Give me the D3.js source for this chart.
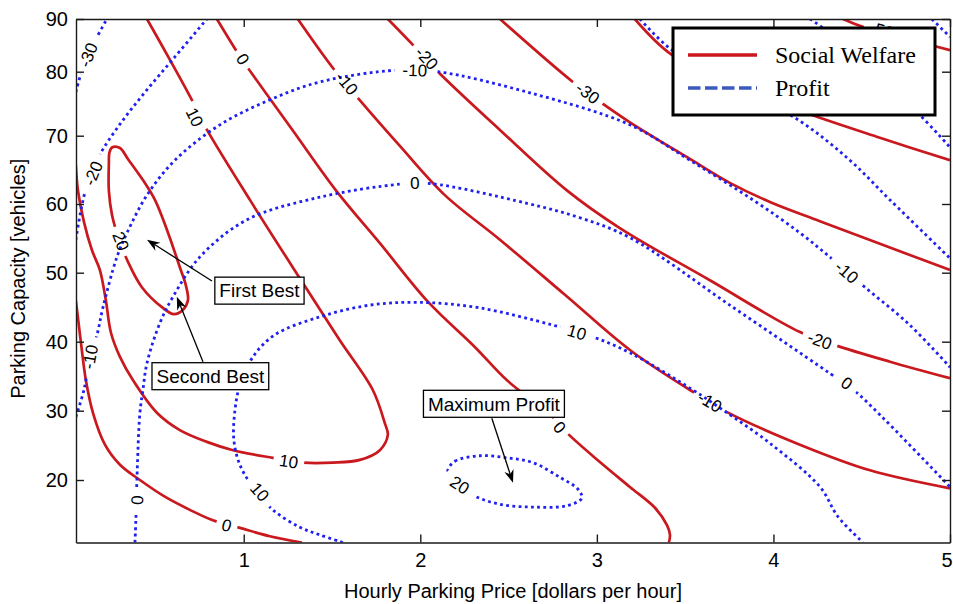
<!DOCTYPE html>
<html>
<head>
<meta charset="utf-8">
<title>Parking price and capacity: social welfare and profit contours</title>
<script src="https://cdn.jsdelivr.net/npm/d3@7"></script>
<style>
  html, body { margin: 0; padding: 0; background: #fff; }
  svg { display: block; }
  text { font-family: "Liberation Sans", Arial, Helvetica, sans-serif; fill: #000; }
</style>
</head>
<body>
<svg id="chart" width="953" height="604"></svg>
<script>
// ---------------------------------------------------------------------------
// Data
// ---------------------------------------------------------------------------
const priceDomain = [0.05, 5];          // hourly parking price, dollars per hour
const capacityDomain = [11, 90];        // parking capacity, vehicles
const xTicks = [1, 2, 3, 4, 5];
const yTicks = [20, 30, 40, 50, 60, 70, 80, 90];

// Social welfare iso-lines, points as [price, capacity]
const welfare20 = [[0.240,67.6],[0.256,68.3],[0.299,68.2],[0.344,66.6],[0.429,63.5],[0.497,60.6],
  [0.570,55.9],[0.638,50.8],[0.672,48.2],[0.684,46.0],[0.655,44.6],[0.604,44.0],[0.542,44.9],
  [0.423,47.9],[0.344,51.6],[0.288,55.3],[0.254,58.4],[0.236,62.0],[0.236,65.7]];
const welfare10 = [[0.049,65.7],[0.061,62.0],[0.095,57.4],[0.140,53.3],[0.185,50.4],[0.219,46.0],
  [0.248,41.3],[0.299,37.8],[0.373,34.4],[0.508,29.7],[0.638,27.2],[0.791,25.5],[0.939,24.3],
  [1.165,23.2],[1.335,22.5],[1.505,22.5],[1.658,22.9],[1.771,24.3],[1.816,26.5],[1.799,28.2],
  [1.731,33.0],[1.544,40.2],[1.335,48.5],[1.035,60.6],[0.780,71.5],[0.706,75.6],[0.583,82.2],[0.452,90]];
const welfare0a = [[0.848,90],[0.967,83.5],[1.024,80.7],[1.273,71.0],[1.522,62.0],[1.771,54.3],
  [2.043,45.8],[2.310,39.2],[2.491,34.4],[2.751,29.1],[2.831,26.8],[3.017,22.6],
  [3.187,19.0],[3.329,16.0],[3.397,13.5],[3.414,12.1],[3.408,11]];
const welfare0b = [[0.049,46.0],[0.066,42.4],[0.083,38.8],[0.106,34.4],[0.146,29.7],[0.214,25.1],
  [0.299,22.2],[0.412,20.0],[0.553,17.6],[0.695,15.7],[0.825,14.2],[0.978,13.1],[1.148,11.9],[1.329,11]];
const welfareM10 = [[1.306,90],[1.505,80.7],[1.646,75.9],[1.884,68.5],[2.139,61.3],[2.451,54.8],
  [2.819,46.8],[3.187,38.8],[3.527,33.0],[3.737,29.8],[4.150,25.1],[4.547,21.4],[5.0,18.8]];
const welfareM20 = [[1.816,90],[1.958,85.1],[2.100,80.0],[2.451,70.9],[2.830,62.0],[3.130,56.5],
  [3.640,48.9],[4.150,41.4],[4.348,39.5],[4.660,37.1],[5.0,34.7]];
const welfareM30 = [[2.451,90],[2.864,78.4],[3.028,75.1],[3.187,72.1],[3.527,66.6],[3.753,63.1],
  [3.980,60.3],[4.263,57.5],[4.603,54.2],[5.0,50.4]];
const welfareM40 = [[3.215,90],[3.425,83.2],[3.811,77.5],[4.190,73.5],[4.603,69.7],[5.0,66.4]];
const welfareM50 = [[4.394,90],[4.507,88.5],[4.886,85.1],[5.0,84.1]];

// Profit iso-lines, points as [price, capacity]
const profit20 = [[2.156,21.4],[2.196,22.7],[2.337,23.5],[2.490,23.2],[2.638,22.5],[2.790,20.4],
  [2.892,18.7],[2.915,17.4],[2.831,16.3],[2.638,16.1],[2.451,16.5],[2.298,17.8],[2.168,20.0]];
const profit10 = [[1.561,11],[1.431,12.1],[1.318,13.2],[1.165,15.7],[1.052,19.0],[0.978,22.2],
  [0.944,25.8],[0.950,30.0],[0.978,33.7],[1.052,37.8],[1.176,41.0],[1.431,43.6],[1.714,45.3],
  [1.997,45.7],[2.337,44.9],[2.751,42.4],[2.977,40.7],[3.187,38.4],[3.544,33.0],[3.714,30.1],
  [3.980,25.3],[4.264,19.0],[4.366,14.7],[4.507,11]];
const profit0 = [[0.384,11],[0.389,14.2],[0.395,20.0],[0.412,29.7],[0.429,33.0],[0.452,36.9],
  [0.525,42.7],[0.599,46.5],[0.752,52.3],[1.018,57.7],[1.431,61.0],[1.884,62.9],[2.054,63.0],
  [2.604,60.1],[2.904,58.0],[3.187,55.1],[3.753,45.3],[4.376,34.4],[4.473,32.6],[5.0,19.0]];
const profitM10 = [[0.049,29.1],[0.095,33.0],[0.129,37.8],[0.169,41.0],[0.203,45.0],[0.282,52.3],
  [0.339,55.8],[0.452,61.3],[0.610,66.4],[0.865,71.7],[1.148,75.6],[1.431,78.4],[1.868,80.3],
  [2.100,80.0],[2.621,76.7],[3.187,71.7],[3.527,66.4],[3.884,60.6],[4.150,55.8],[4.337,51.9],
  [4.518,47.9],[4.773,42.4],[5.0,36.3]];
const profitM20a = [[0.049,54.8],[0.100,61.6],[0.146,64.5],[0.185,67.2],[0.299,71.8],[0.441,76.8],
  [0.610,82.8],[0.791,90]];
const profitM20b = [[3.244,90],[3.425,84.1],[3.782,77.9],[4.150,72.3],[4.433,66.4],[4.660,60.6],[5.0,52.1]];
const profitM30a = [[0.049,76.8],[0.084,80.3],[0.118,83.2],[0.169,86.6],[0.225,90]];
const profitM30b = [[4.207,90],[4.280,88.3],[4.547,80.3],[4.830,73.2],[5.0,68.3]];
const profitM40 = [[4.897,90],[5.0,86.6]];

// Inline contour labels: [text, price, capacity]
const welfareLabels = [["20",0.305,54.6],["10",0.723,72.9],["10",1.255,22.7],["0",0.995,82.4],
  ["0",0.904,13.5],["0",2.790,27.6],["-10",1.584,78.2],["-10",3.640,31.3],["-20",2.037,82.6],
  ["-20",4.263,40.2],["-30",2.949,76.7],["-50",4.614,87.9]];
const profitLabels = [["-30",0.118,83.2],["-20",0.146,64.5],["-10",0.129,37.8],["-10",1.969,80.3],
  ["-10",4.416,50.1],["0",1.969,63.1],["0",0.395,17.1],["0",4.416,34.0],["10",1.091,18.3],
  ["10",2.887,41.4],["20",2.224,19.3]];

// Call-outs: text, box centre, arrow start, arrow tip (all [price, capacity])
const calloutText = ["First Best", "Second Best", "Maximum Profit"];
const calloutBox  = [[1.089,47.4], [0.811,35.0], [2.417,31.0]];
const calloutTail = [[0.820,48.8], [0.769,37.1], [2.405,28.9]];
const calloutTip  = [[0.452,54.8], [0.621,46.5], [2.525,19.6]];

const legendNames = ["Social Welfare", "Profit"];

// ---------------------------------------------------------------------------
// Layout and scales
// ---------------------------------------------------------------------------
const W = 953, H = 604;
const plot = { left: 76, right: 950, top: 19, bottom: 542.5 };
const svg = d3.select("#chart");

const x = d3.scaleLinear().domain(priceDomain).range([plot.left, plot.right]);
// vertical axis is calibrated piecewise at each tick
const y = d3.scaleLinear()
  .domain([capacityDomain[0], ...yTicks])
  .range([542.5, 480, 410.7, 341.7, 272.7, 204, 135.7, 71.7, 19]);

const defs = svg.append("defs");
defs.append("clipPath").attr("id", "plot-clip").append("rect")
  .attr("x", plot.left).attr("y", plot.top)
  .attr("width", plot.right - plot.left).attr("height", plot.bottom - plot.top);

const openLine = d3.line().x(d => x(d[0])).y(d => y(d[1])).curve(d3.curveCatmullRom.alpha(0.5));
const closedLine = d3.line().x(d => x(d[0])).y(d => y(d[1])).curve(d3.curveCatmullRomClosed.alpha(0.5));

// direction of the nearest contour segment, kept readable
function tangentAngle(segs, cx, cy) {
  let best = Infinity, ang = 0;
  segs.forEach(([a, b]) => {
    const ax = x(a[0]), ay = y(a[1]), bx = x(b[0]), by = y(b[1]);
    const dx = bx - ax, dy = by - ay, L2 = dx * dx + dy * dy;
    let t = L2 ? ((cx - ax) * dx + (cy - ay) * dy) / L2 : 0;
    t = Math.max(0, Math.min(1, t));
    const ex = ax + t * dx - cx, ey = ay + t * dy - cy, d = ex * ex + ey * ey;
    if (d < best) { best = d; ang = Math.atan2(dy, dx) * 180 / Math.PI; }
  });
  if (ang > 90) ang -= 180;
  if (ang <= -90) ang += 180;
  return ang;
}

const families = [
  { id: "welfare", open: [welfare10, welfare0a, welfare0b, welfareM10, welfareM20, welfareM30, welfareM40, welfareM50],
    closed: [welfare20], labels: welfareLabels, stroke: "#c9191e", width: 2.7, dash: null, gap: 6 },
  { id: "profit", open: [profit10, profit0, profitM10, profitM20a, profitM20b, profitM30a, profitM30b, profitM40],
    closed: [profit20], labels: profitLabels, stroke: "#2020f0", width: 2.8, dash: "2.8 3.4", gap: 8 }
];

const contourLayer = svg.append("g").attr("clip-path", "url(#plot-clip)");
const labelLayer = svg.append("g").attr("font-size", 17);

families.forEach(f => {
  const mask = defs.append("mask").attr("id", f.id + "-mask")
    .attr("maskUnits", "userSpaceOnUse")
    .attr("x", 0).attr("y", 0).attr("width", W).attr("height", H);
  mask.append("rect").attr("width", W).attr("height", H).attr("fill", "#fff");

  const g = contourLayer.append("g")
    .attr("mask", `url(#${f.id}-mask)`)
    .attr("fill", "none")
    .attr("stroke", f.stroke)
    .attr("stroke-width", f.width);
  if (f.dash) g.attr("stroke-dasharray", f.dash);

  g.selectAll("path.open").data(f.open).join("path").attr("class", "open").attr("d", openLine);
  g.selectAll("path.closed").data(f.closed).join("path").attr("class", "closed").attr("d", closedLine);

  const segs = [];
  f.open.forEach(pts => { for (let i = 0; i < pts.length - 1; i++) segs.push([pts[i], pts[i + 1]]); });
  f.closed.forEach(pts => { for (let i = 0; i < pts.length; i++) segs.push([pts[i], pts[(i + 1) % pts.length]]); });

  f.labels.forEach(([txt, p, k]) => {
    const cx = x(p), cy = y(k);
    const ang = tangentAngle(segs, cx, cy);
    const tr = `translate(${cx},${cy}) rotate(${ang})`;
    const t = labelLayer.append("text")
      .attr("transform", tr)
      .attr("text-anchor", "middle")
      .attr("dy", "0.36em")
      .text(txt);
    const w = t.node().getComputedTextLength();
    mask.append("rect")
      .attr("transform", tr)
      .attr("x", -w / 2 - f.gap).attr("y", -8)
      .attr("width", w + 2 * f.gap).attr("height", 16)
      .attr("fill", "#000");
  });
});

// ---------------------------------------------------------------------------
// Axes (box with inward ticks on all sides)
// ---------------------------------------------------------------------------
function styleAxis(g) {
  g.attr("font-family", null).attr("font-size", null);
  g.select(".domain").attr("stroke", "#1a1a1a").attr("stroke-width", 1.4);
  g.selectAll(".tick line").attr("stroke", "#1a1a1a").attr("stroke-width", 1.4);
  g.selectAll(".tick text").attr("font-size", 20).attr("fill", "#000");
}

const xAxisG = svg.append("g").attr("transform", `translate(0,${plot.bottom})`)
  .call(d3.axisBottom(x).tickValues(xTicks).tickSizeInner(-8).tickSizeOuter(0)
    .tickPadding(10).tickFormat(d3.format("d")))
  .call(styleAxis);
// the last label sits on the right border; keep it inside the page
xAxisG.selectAll(".tick text").filter(d => d === xTicks[xTicks.length - 1])
  .attr("text-anchor", "end").attr("dx", 2);

svg.append("g").attr("transform", `translate(0,${plot.top})`)
  .call(d3.axisTop(x).tickValues(xTicks).tickSizeInner(-8).tickSizeOuter(0).tickFormat(""))
  .call(styleAxis);
svg.append("g").attr("transform", `translate(${plot.left},0)`)
  .call(d3.axisLeft(y).tickValues(yTicks).tickSizeInner(-8).tickSizeOuter(0)
    .tickPadding(8).tickFormat(d3.format("d")))
  .call(styleAxis);
svg.append("g").attr("transform", `translate(${plot.right},0)`)
  .call(d3.axisRight(y).tickValues(yTicks).tickSizeInner(-8).tickSizeOuter(0).tickFormat(""))
  .call(styleAxis);

svg.append("text")
  .attr("x", (plot.left + plot.right) / 2)
  .attr("y", 598)
  .attr("text-anchor", "middle")
  .attr("font-size", 20)
  .text("Hourly Parking Price [dollars per hour]");

svg.append("text")
  .attr("transform", `translate(25,${(plot.top + plot.bottom) / 2 - 2}) rotate(-90)`)
  .attr("text-anchor", "middle")
  .attr("font-size", 20)
  .text("Parking Capacity [vehicles]");

// ---------------------------------------------------------------------------
// Call-outs with boxed text and arrows
// ---------------------------------------------------------------------------
const callLayer = svg.append("g");
calloutText.forEach((txt, i) => {
  const bx = x(calloutBox[i][0]), by = y(calloutBox[i][1]);
  const tx = x(calloutTail[i][0]), ty = y(calloutTail[i][1]);
  const px = x(calloutTip[i][0]), py = y(calloutTip[i][1]);

  // arrow
  const dx = px - tx, dy = py - ty, L = Math.hypot(dx, dy);
  const ux = dx / L, uy = dy / L, nx = -uy, ny = ux;
  const headLen = 13, headW = 4.8, notch = 9;
  callLayer.append("line")
    .attr("x1", tx).attr("y1", ty)
    .attr("x2", px - ux * notch).attr("y2", py - uy * notch)
    .attr("stroke", "#000").attr("stroke-width", 1.3);
  const head = [
    [px, py],
    [px - ux * headLen + nx * headW, py - uy * headLen + ny * headW],
    [px - ux * notch, py - uy * notch],
    [px - ux * headLen - nx * headW, py - uy * headLen - ny * headW]
  ];
  callLayer.append("path").attr("d", "M" + head.map(p => p.join(",")).join("L") + "Z").attr("fill", "#000");

  // boxed text
  const g = callLayer.append("g");
  const rect = g.append("rect");
  const t = g.append("text")
    .attr("x", bx).attr("y", by)
    .attr("dy", "0.36em")
    .attr("text-anchor", "middle")
    .attr("font-size", 19)
    .text(txt);
  const w = t.node().getComputedTextLength() + 9, h = 27;
  rect.attr("x", bx - w / 2).attr("y", by - h / 2).attr("width", w).attr("height", h)
    .attr("fill", "#fff").attr("stroke", "#000").attr("stroke-width", 1.3);
});

// ---------------------------------------------------------------------------
// Legend
// ---------------------------------------------------------------------------
const legend = svg.append("g").attr("transform", "translate(673,28)");
legend.append("rect")
  .attr("width", 262).attr("height", 87)
  .attr("fill", "#fff").attr("stroke", "#000").attr("stroke-width", 3);
const legendStyle = [
  { stroke: "#c9191e", dash: null },
  { stroke: "#3c5abe", dash: "12.5 4.5" }
];
legendNames.forEach((name, i) => {
  const yy = 27 + i * 33;
  const ln = legend.append("line")
    .attr("x1", 15).attr("x2", 84).attr("y1", yy).attr("y2", yy)
    .attr("stroke", legendStyle[i].stroke).attr("stroke-width", 3.3);
  if (legendStyle[i].dash) ln.attr("stroke-dasharray", legendStyle[i].dash);
  legend.append("text")
    .attr("x", 102).attr("y", yy + 8)
    .attr("font-size", 24)
    .style("font-family", '"Liberation Serif", "Times New Roman", serif')
    .text(name);
});
</script>
</body>
</html>
